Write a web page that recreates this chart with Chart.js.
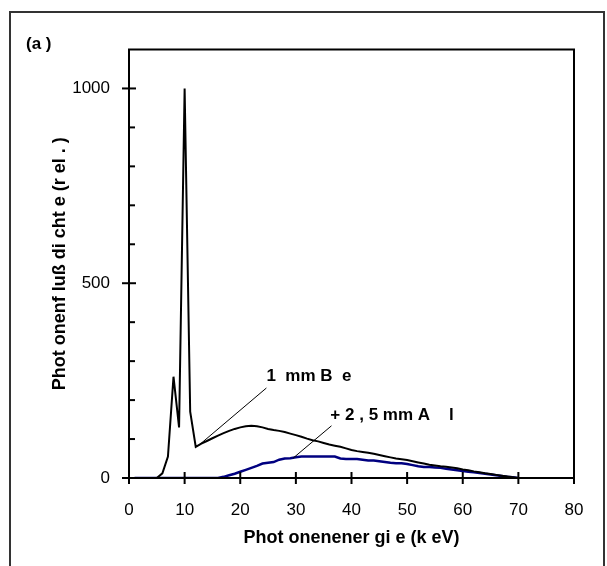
<!DOCTYPE html>
<html>
<head>
<meta charset="utf-8">
<script src="https://cdn.jsdelivr.net/npm/chart.js@4"></script>
<style>
body { margin: 0; background: #fff; }
#wrap { position: relative; width: 607px; height: 566px; overflow: hidden; }
#frame { position: absolute; left: 9px; top: 11px; width: 592px; height: 600px; border: 2px solid #333; }
canvas { position: absolute; left: 0; top: 0; }
</style>
</head>
<body>
<div id="wrap"><div id="frame"></div><canvas id="spectrum" width="607" height="566"></canvas></div>
<script>
// photon energy in keV
var energies = [1, 2, 3, 4, 5, 6, 7, 8, 9, 10,
  11, 12, 13, 14, 15, 16, 17, 18, 19, 20,
  21, 22, 23, 24, 25, 26, 27, 28, 29, 30,
  31, 32, 33, 34, 35, 36, 37, 38, 39, 40,
  41, 42, 43, 44, 45, 46, 47, 48, 49, 50,
  51, 52, 53, 54, 55, 56, 57, 58, 59, 60,
  61, 62, 63, 64, 65, 66, 67, 68, 69, 70];

// 1 mm Be filter
var be1mm = [0, 0, 0, 0, 0, 12, 55, 260, 130, 1000,
  170, 80, 88, 95, 102, 109, 115, 121, 126, 130,
  133, 134, 133, 130, 126, 123, 121, 118, 114, 110,
  106, 101, 97, 94, 90, 86, 83, 80, 76, 72,
  69, 67, 65, 62, 59, 56, 53, 50, 48, 46,
  43, 40, 37, 34, 32, 30, 29, 27, 25, 22,
  20, 17, 15, 12, 10, 8, 6, 4, 2, 0];

// + 2,5 mm Al
var al25mm = [0, 0, 0, 0, 0, 0, 0, 0, 0, 0,
  0, 0, 0, 0, 0, 0, 3, 7, 11, 16,
  21, 26, 31, 37, 39, 41, 47, 50, 51, 53,
  55, 55, 55, 55, 55, 55, 55, 50, 49, 49,
  49, 47, 45, 45, 43, 41, 39, 38, 38, 36,
  33, 30, 28, 28, 27, 26, 24, 22, 20, 18,
  16, 15, 13, 11, 9, 7, 5, 3, 2, 0];

var yLabels = [0, 500, 1000];

var font = '"Liberation Sans", Arial, sans-serif';

// leader labels, in data units
var notes = [
  { text: '1  mm B  e', x: 24.7, y: 260, from: [24.7, 231], to: [12.3, 81] },
  { text: '+ 2 , 5 mm A    l', x: 36.2, y: 162, from: [36.4, 134], to: [29.5, 51] }
];

function pts(ys) {
  return energies.map(function (e, i) { return { x: e, y: ys[i] }; });
}

var boxPlugin = {
  id: 'box',
  afterDraw: function (chart) {
    var ctx = chart.ctx, a = chart.chartArea;
    var xs = chart.scales.x, ys = chart.scales.y;
    ctx.save();
    ctx.strokeStyle = '#000';
    ctx.lineWidth = 2;
    ctx.strokeRect(a.left, a.top, a.right - a.left, a.bottom - a.top);

    // y ticks: major cross the axis, minor inside
    ys.ticks.forEach(function (t) {
      var py = ys.getPixelForValue(t.value);
      if (t.value > 1000) return;
      ctx.beginPath();
      if (yLabels.indexOf(t.value) >= 0) {
        ctx.moveTo(a.left - 7, py); ctx.lineTo(a.left + 7, py);
      } else {
        ctx.moveTo(a.left, py); ctx.lineTo(a.left + 6, py);
      }
      ctx.stroke();
    });
    xs.ticks.forEach(function (t) {
      var px = xs.getPixelForValue(t.value);
      ctx.beginPath();
      ctx.moveTo(px, a.bottom - 6); ctx.lineTo(px, a.bottom + 6);
      ctx.stroke();
    });

    ctx.fillStyle = '#000';
    ctx.font = 'bold 17px ' + font;
    ctx.textBaseline = 'middle';
    ctx.textAlign = 'left';
    ctx.fillText('(a )', 26, 44);

    notes.forEach(function (n) {
      ctx.lineWidth = 1;
      ctx.beginPath();
      ctx.moveTo(xs.getPixelForValue(n.from[0]), ys.getPixelForValue(n.from[1]));
      ctx.lineTo(xs.getPixelForValue(n.to[0]), ys.getPixelForValue(n.to[1]));
      ctx.stroke();
      ctx.fillText(n.text, xs.getPixelForValue(n.x), ys.getPixelForValue(n.y));
    });
    ctx.restore();
  }
};

new Chart(document.getElementById('spectrum'), {
  type: 'line',
  data: {
    datasets: [{
      label: '1 mm Be',
      data: pts(be1mm),
      borderColor: '#000',
      borderWidth: 2,
      pointRadius: 0,
      tension: 0
    }, {
      label: '+ 2,5 mm Al',
      data: pts(al25mm),
      borderColor: '#000080',
      borderWidth: 2.5,
      pointRadius: 0,
      tension: 0
    }]
  },
  options: {
    responsive: false,
    animation: false,
    layout: { padding: { top: 49.5, right: 33, left: 0, bottom: 0 } },
    plugins: { legend: { display: false }, tooltip: { enabled: false } },
    scales: {
      x: {
        type: 'linear',
        min: 0, max: 80,
        afterFit: function (s) { s.height = 88; },
        grid: { display: false, drawTicks: false },
        border: { display: false },
        ticks: { stepSize: 10, padding: 22, color: '#000', font: { family: font, size: 17 } },
        title: {
          display: true,
          text: 'Phot onenener gi e (k eV)',
          color: '#000',
          font: { family: font, size: 18, weight: 'bold' },
          padding: { top: 0, bottom: 17 }
        }
      },
      y: {
        min: 0, max: 1100,
        afterFit: function (s) { s.width = 129; },
        grid: { display: false, drawTicks: false },
        border: { display: false },
        ticks: {
          stepSize: 100, padding: 19, color: '#000',
          font: { family: font, size: 17 },
          callback: function (v) { return yLabels.indexOf(v) >= 0 ? String(v) : ''; }
        },
        title: {
          display: true,
          text: 'Phot onenf luß di cht e (r el . )',
          color: '#000',
          font: { family: font, size: 18, weight: 'bold' },
          padding: { top: 49, bottom: 0 }
        }
      }
    }
  },
  plugins: [boxPlugin]
});
</script>
</body>
</html>
